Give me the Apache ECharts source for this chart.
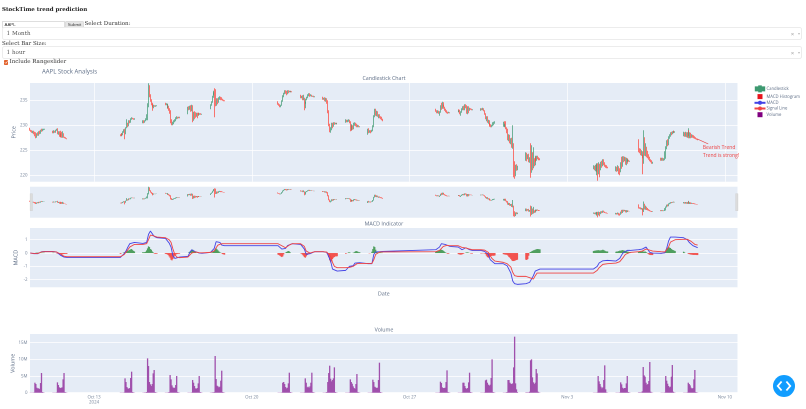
<!DOCTYPE html>
<html><head><meta charset="utf-8">
<script src="https://cdn.jsdelivr.net/npm/echarts@6/dist/echarts.min.js"></script>
<style>
html,body{margin:0;padding:0;background:#fff;width:806px;height:409px;overflow:hidden}
#c{position:absolute;left:0;top:0;width:806px;height:409px}
.t{position:absolute;font-family:"DejaVu Serif",serif;color:#333;white-space:nowrap;line-height:1}
.dd{position:absolute;left:2px;width:798px;height:11px;border:0.6px solid #ececec;border-radius:2px;background:#fff;box-sizing:content-box}
.dd span{position:absolute;left:3.6px;top:2.7px;font:5.6px/1 "DejaVu Serif",serif;color:#555}
.dd i{position:absolute;left:787.8px;top:2.8px;font:normal 6px/1 "Liberation Sans",sans-serif;color:#aaa}
.dd b{position:absolute;left:794.8px;top:4.8px;width:0;height:0;border:1.5px solid transparent;border-top:2px solid #bbb}
#inp{position:absolute;left:2px;top:20.5px;width:63px;height:7px;border:.5px solid #dedede;box-sizing:border-box;font:4.4px/6px "Liberation Sans",sans-serif;padding-left:1.5px;color:#333}
#sub{position:absolute;left:65px;top:20.7px;width:19px;height:7px;background:#e6e6e6;border:.5px solid #ddd;box-sizing:border-box;border-radius:1px;font:4.4px/6px "Liberation Sans",sans-serif;text-align:center;color:#444}
#chk{position:absolute;left:3.5px;top:60px;width:4.4px;height:4.6px;background:#e2622d;border-radius:.7px}
#btn{position:absolute;left:773px;top:375px;width:22px;height:22px;border-radius:50%;background:#119dff}
</style></head><body>
<div id="c"></div>
<div class="t" style="left:2px;top:7px;font-size:5.5px;font-weight:bold;color:#222">StockTime trend prediction</div>
<div id="inp">AAPL</div><div id="sub">Submit</div>
<div class="t" style="left:84.5px;top:21.2px;font-size:5.55px">Select Duration:</div>
<div class="dd" style="top:27.4px"><span>1 Month</span><i>×</i><b></b></div>
<div class="t" style="left:2px;top:40.6px;font-size:5.55px">Select Bar Size:</div>
<div class="dd" style="top:46.4px"><span>1 hour</span><i>×</i><b></b></div>
<div id="chk"><svg width="4.4" height="4.6" viewBox="0 0 10 10" style="display:block"><path d="M2 5l2.3 2.5L8 2.5" stroke="#fff" stroke-width="1.6" fill="none"/></svg></div>
<div class="t" style="left:9.5px;top:59.3px;font-size:5.55px">Include Rangeslider</div>
<div id="btn"><svg width="22" height="22" viewBox="0 0 22 22" style="display:block"><path d="M8.6 6.5L4.8 11l3.8 4.5M13.4 6.5l3.8 4.5-3.8 4.5" stroke="#fff" stroke-width="1.9" fill="none"/></svg></div>
<script>
var tradingDays=['2024-10-10','2024-10-11','2024-10-14','2024-10-15','2024-10-16','2024-10-17','2024-10-18','2024-10-21','2024-10-22','2024-10-23','2024-10-24','2024-10-25','2024-10-28','2024-10-29','2024-10-30','2024-10-31','2024-11-01','2024-11-04','2024-11-05','2024-11-06','2024-11-07','2024-11-08'];
var barHours=[4,5,6,7,8,9,10,11,12,13,14,15,16,17,18,19];
var lineHours=[4,6,8,10,12,14,16,19];
// one row per hour: open, close, low, high
var ohlc=[
[[229.4,229,228.9,229.5],[229,228.9,228.7,229.1],[228.9,228.6,228.5,229],[228.6,228.8,228.4,228.9],[228.8,228.3,228.2,228.9],[228.3,228,227.8,228.7],[228,227.6,227.4,228.6],[227.6,228.2,227.5,228.4],[228.2,228,227.9,228.6],[228,228.6,227.9,228.8],[228.6,228.4,228.2,228.9],[228.4,229,228.3,229.1],[229,228.9,228.7,229.3],[228.9,229.1,228.8,229.3],[229.1,229.2,229,229.3],[229.2,229.2,229.1,229.3]],
[[228.7,228.5,228.4,228.9],[228.5,228.8,228.4,229],[228.8,228.6,228.5,228.9],[228.6,229,228.5,229.1],[229,229.2,228.9,229.3],[229.2,228.4,228.2,229.4],[228.4,228.6,228.1,228.8],[228.6,227.8,227.7,228.8],[227.8,228.2,227.6,228.4],[228.2,227.9,227.6,228.9],[227.9,227.6,227.5,228.7],[227.6,228.3,227.5,228.8],[228.3,227.6,227.5,228.4],[227.6,227.5,227.4,227.7],[227.5,227.4,227.3,227.6],[227.4,227.3,227.2,227.4]],
[[228,227.9,227.8,228.2],[227.9,228.3,227.8,228.4],[228.3,228.1,227.9,228.4],[228.1,228.6,228,228.8],[228.6,229,228.5,229.2],[229,228.3,227.2,229.3],[228.3,229.5,228.2,229.6],[229.5,230.2,229.4,231.2],[230.2,229.9,229.6,230.5],[229.9,230.8,229.8,231],[230.8,230.6,230.4,231],[230.6,231.2,230.5,231.4],[231.2,231.4,231.1,231.6],[231.4,231.3,231.2,231.5],[231.3,231.2,231.1,231.4],[231.2,231.3,231.1,231.4]],
[[230.5,230.9,230.4,231],[230.9,230.6,230.4,231],[230.6,230.9,230.5,231],[230.9,231.2,230.8,231.4],[231.2,232,231,232.2],[232,233.8,231,234.4],[233.8,237.4,233.6,238.4],[237.4,235.8,235.6,238],[235.8,234.9,234.7,236.2],[234.9,234.2,234,235.2],[234.2,234,233.6,234.5],[234,233.6,232.9,234.2],[233.6,233.9,233.4,234.1],[233.9,233.8,233.7,234],[233.8,233.9,233.7,234],[233.9,233.9,233.8,234]],
[[234.3,234.1,234,234.5],[234.1,234.2,234,234.4],[234.2,233.5,233.3,234.3],[233.5,233.7,233.4,234.3],[233.7,233,232.9,233.9],[233,232.6,232.3,233.4],[232.6,230.7,230.4,233],[230.7,230.2,230,231.2],[230.2,230.4,230,230.7],[230.4,230.8,230.2,231],[230.8,231,230.6,231.2],[231,231.4,230.8,231.6],[231.4,231.6,231.2,231.8],[231.6,231.5,231.3,231.7],[231.5,231.6,231.4,231.7],[231.6,231.5,231.4,231.7]],
[[232.3,233.5,232.2,233.7],[233.5,233.2,233,233.8],[233.2,233.8,233.1,233.9],[233.8,232.9,232.7,234],[232.9,233.9,232.8,234.1],[233.9,231.5,230.6,234],[231.5,232.5,230.9,232.7],[232.5,232.2,231.2,232.8],[232.2,231.9,231.5,232.6],[231.9,232.4,231.7,232.5],[232.4,232.1,231.4,232.5],[232.1,232.3,231.9,232.5],[232.3,232.2,232,232.5],[232.2,232.3,232.1,232.4],[232.3,232.2,232.1,232.4],[232.2,232.2,232.1,232.3]],
[[233.4,234,233.2,234.2],[234,234.6,233.9,234.8],[234.6,235.6,234.5,235.9],[235.6,236.2,235.5,236.6],[236.2,236.6,236,236.9],[236.6,234.6,231.6,237.4],[234.6,234,233.8,237.2],[234,235,233.9,235.4],[235,234.6,234.2,235.4],[234.6,235.4,234.5,235.6],[235.4,235.6,235.1,235.8],[235.6,235.4,235,235.7],[235.4,235.1,235,235.6],[235.1,235,234.9,235.3],[235,234.9,234.8,235.1],[234.9,234.8,234.8,235]],
[[234.7,234.2,234.1,234.8],[234.2,234,233.9,234.4],[234,233.7,233.6,234.2],[233.7,234,233.6,234.1],[234,234.9,233.9,235],[234.9,235.8,234.7,236],[235.8,236.3,235.6,236.5],[236.3,236.8,236.2,237],[236.8,236.6,236.3,237],[236.6,236.4,236,236.9],[236.4,236.8,236.2,237],[236.8,236.7,236.4,237],[236.7,236.8,236.6,236.9],[236.8,236.7,236.6,236.9],[236.7,236.7,236.6,236.8],[236.7,236.6,236.6,236.8]],
[[235.8,235.5,235.4,236.1],[235.5,235.7,235.4,235.9],[235.7,235.1,235,236],[235.1,235.4,235,236.1],[235.4,233.5,233,235.5],[233.5,234.5,233.4,234.7],[234.5,235.1,234.3,235.3],[235.1,235.5,235,235.7],[235.5,236,235.4,236.2],[236,236.2,235.8,236.4],[236.2,235.9,235.7,236.4],[235.9,236,235.8,236.2],[236,235.8,235.7,236.1],[235.8,235.8,235.7,235.9],[235.8,235.7,235.6,235.9],[235.7,235.7,235.6,235.8]],
[[235.5,235.2,235.1,235.7],[235.2,235.4,235.1,235.5],[235.4,234.9,234.8,235.6],[234.9,235.3,234.7,235.5],[235.3,234.4,234.3,235.4],[234.4,232.8,232.4,235],[232.8,230,229.8,233],[230,228.9,228.6,230.3],[228.9,229.1,228.5,229.6],[229.1,230.2,229,230.5],[230.2,229.8,229.4,230.5],[229.8,230.4,229.7,230.6],[230.4,230.3,230.1,230.6],[230.3,230.4,230.2,230.5],[230.4,230.3,230.2,230.5],[230.3,230.3,230.2,230.4]],
[[230.6,230.9,230.5,231.2],[230.9,230.7,230.6,231.1],[230.7,230.9,230.6,231.1],[230.9,231,230.7,231.2],[231,230.6,230.4,231.1],[230.6,229.5,228.8,230.8],[229.5,229.2,228.9,230],[229.2,229.8,229,230.2],[229.8,229.3,229.1,230],[229.3,230.1,229.2,230.5],[230.1,230.3,229.9,230.6],[230.3,230.1,229.8,230.5],[230.1,229.8,229.6,230.3],[229.8,229.9,229.6,230.1],[229.9,229.7,229.6,230],[229.7,229.7,229.6,229.8]],
[[228.6,229.1,228.1,229.3],[229.1,228.6,228.4,229.4],[228.6,228.8,228.5,229],[228.8,228.5,228.4,229],[228.8,228.9,228.6,229.1],[228.9,229.7,228.8,230],[229.7,231.8,229.6,232],[231.8,233,231.6,233.3],[233,232.1,231.9,233.3],[232.1,232.6,231.8,232.9],[232.6,231.9,231.7,232.8],[231.9,232,231.4,232.2],[232,231.6,231.4,232.2],[231.6,231.5,231.2,231.8],[231.5,231.2,231,231.7],[231.2,231,230.8,231.3]],
[[233.1,232.9,232.7,233.3],[232.9,232.5,232.4,233],[232.5,232.8,232.4,233],[232.8,232.4,232.3,232.9],[232.4,232.6,231.9,232.8],[232.6,233.8,232.5,234],[233.8,233.4,233.1,234.5],[233.4,234.5,233.3,234.7],[234.5,233.9,233.7,234.6],[233.9,233.5,233.3,234.1],[233.5,233.1,232.9,233.7],[233.1,232.8,232.6,233.3],[232.8,232.6,232.4,233],[232.6,232.5,232.3,232.7],[232.5,232.6,232.4,232.7],[232.6,232.5,232.4,232.6]],
[[233,232.7,232.6,233.2],[232.7,232.9,232.6,233],[232.9,232.3,232.2,233.1],[232.3,232.6,231.9,232.8],[232.6,233.2,232.5,233.4],[233.2,233.6,233,233.8],[233.6,233.2,233,233.9],[233.2,234,233,234.2],[234,233.8,233.4,234.2],[233.8,232.5,232.3,234],[232.5,233.6,232.2,233.8],[233.6,233.1,232.4,233.8],[233.1,233.3,232.9,233.5],[233.3,233.2,233.1,233.4],[233.2,233.1,233,233.3],[233.1,233.1,233,233.2]],
[[233,233.2,232.9,233.4],[233.2,233.1,233,233.4],[233.1,233.3,233,233.5],[233.3,232.9,232.8,233.4],[232.9,232.2,232.1,233],[232.2,231.4,231.2,232.4],[231.4,231.6,230.8,231.8],[231.6,230.7,230.5,231.8],[230.7,230.9,230.3,231.1],[230.9,230.2,230,231],[230.2,230,229.7,230.4],[230,229.7,229.6,230.2],[229.7,229.9,229.6,230.1],[229.9,230.1,229.8,230.6],[230.1,230.4,230,230.7],[230.4,230.6,230.3,230.8]],
[[230,230.3,229.7,230.7],[230.3,229.9,229.7,230.8],[229.9,230,229.6,230.3],[230,229.4,229.2,230.8],[229.4,229.1,228.4,229.6],[229.1,227.6,227,229.3],[227.6,227.9,226.8,228.2],[227.9,226.8,226.4,228.1],[226.8,227.2,226.2,227.4],[227.2,225.8,225.5,227.5],[225.8,226.2,225.3,230],[226.2,222.4,219.6,226.4],[222.4,220.2,219.3,222.8],[220.2,221.8,219.8,222.1],[221.8,221.2,220.9,222.2],[221.2,221.6,221,221.9]],
[[223.2,224.3,222.9,224.6],[224.3,223.4,222.8,224.5],[223.4,224,223.2,224.2],[224,222.9,222.6,224.3],[222.9,223.4,222.5,223.6],[223.4,220.9,219.5,226.4],[220.9,224.2,220.5,226],[224.2,221.6,221,224.6],[221.6,223,221.4,225.6],[223,222.2,221.8,223.4],[222.2,223.4,222,223.9],[223.4,223.1,222.7,223.7],[223.1,223.7,222.9,223.9],[223.7,223.5,223.2,223.9],[223.5,223.3,223,223.6],[223.3,223.1,223,223.4]],
[[221.4,221.7,221.2,222],[221.7,221.3,221,221.9],[221.3,221.9,220.8,222.1],[221.9,221.1,220.7,222.2],[221.1,221.6,220,222.4],[221.6,220.4,218.9,222.4],[220.4,222,220.2,222.6],[222,221.1,219.6,222.3],[221.1,222.2,221,222.7],[222.2,222,221.5,222.9],[222,223,221.8,223.2],[223,222.4,222,223.2],[222.4,221.9,221.7,222.6],[221.9,221.8,221.5,222.1],[221.8,221.6,221.4,222],[221.6,221.5,221.4,221.7]],
[[221,221.4,220.8,221.8],[221.4,221,220.7,221.7],[221,221.6,220.8,222],[221.6,221.1,220.2,221.8],[221.1,220.9,220,221.4],[220.9,222.2,220.6,222.6],[222.2,221.9,221.3,223.7],[221.9,223.3,221.7,223.8],[223.3,223.1,222.6,223.8],[223.1,223.4,222.8,223.7],[223.4,222.9,222.1,223.6],[222.9,223.2,222,223.5],[223.2,222.9,222.3,223.4],[222.9,223,222.7,223.2],[223,222.8,222.7,223.1],[222.8,222.8,222.7,222.9]],
[[226.8,225.2,224.6,227.2],[225.2,224.9,224.4,225.4],[224.9,224.3,224,225.3],[224.3,224.6,223.9,225],[224.6,223.7,223.4,224.8],[223.7,222.7,220.2,224.1],[222.7,225.8,222.3,229],[225.8,224.2,223.9,227.6],[224.2,225.4,223.8,226.4],[225.4,224.4,223.6,225.7],[224.4,223.9,223.4,224.9],[223.9,223.4,223.1,224.2],[223.4,223,222.8,223.7],[223,222.8,222.6,223.2],[222.8,222.5,222.3,223],[222.5,222.6,222.3,222.7]],
[[223.3,223.1,222.9,223.5],[223.1,223.4,222.9,223.5],[223.4,223,222.9,223.5],[223,223.2,222.9,223.4],[223.2,223.5,223,224.8],[223.5,225.4,223.3,225.8],[225.4,226.6,225.2,227],[226.6,226.2,225.8,227.2],[226.2,227.6,226,227.8],[227.6,227.9,227.3,228.2],[227.9,228.4,227.7,228.6],[228.4,228.3,228,228.7],[228.3,228.6,228.2,228.8],[228.6,228.7,228.4,228.9],[228.7,228.6,228.5,228.9],[228.6,228.7,228.5,228.8]],
[[228,228.5,227.8,228.7],[228.5,228,227.7,228.6],[228,228.4,227.7,228.7],[228.4,227.9,227.6,228.6],[227.9,228.3,227.5,228.6],[228.3,228.6,227.8,229.4],[228.6,227.8,227.4,229],[227.8,228.3,227.4,228.6],[228.3,227.7,227.4,228.5],[227.7,228,227.5,228.2],[228,227.8,227.5,228.1],[227.8,227.6,227.4,228],[227.6,227.5,227.3,227.8],[227.5,227.3,227.2,227.6],[227.3,227.2,227.1,227.4],[227.2,227.1,227,227.3]]
];
var macdVals=[
[0,-0.02,-0.05,-0.1,-0.05,0.05,0.1,0.12],[0.12,0.1,0.08,0,-0.15,-0.25,-0.3,-0.33],[-0.33,-0.2,-0.05,0.15,0.45,0.7,0.78,0.8],[0.72,0.7,0.8,1.4,1.65,1.5,1.25,1.15],[1.1,1.05,0.75,0.45,-0.2,-0.4,-0.35,-0.3],[-0.25,0.05,0.25,0.2,0.1,0.05,0,-0.02],[0.05,0.1,0.35,0.85,0.85,0.8,0.6,0.55],
[0.55,0.5,0.3,0.15,0.35,0.55,0.65,0.7],[0.65,0.6,0.3,-0.1,-0.15,-0.05,0.05,0.1],[0.1,0.1,0.05,-0.1,-0.6,-1.2,-1.32,-1.35],[-1.3,-1.2,-1,-1.05,-0.95,-0.75,-0.7,-0.72],[-0.8,-0.85,-0.8,-0.1,0.08,0.1,0.1,0.12],
[0.25,0.3,0.45,0.7,0.8,0.65,0.55,0.5],[0.45,0.4,0.25,0.3,0.4,0.35,0.25,0.2],[0.2,0.18,0.12,0.15,-0.1,-0.5,-0.65,-0.8],[-0.8,-0.85,-0.95,-1.05,-1.5,-2.1,-2.3,-2.35],[-2.3,-2.28,-2.2,-2.05,-1.7,-1.35,-1.2,-1.2],
[-1.2,-1.15,-1,-0.75,-0.62,-0.58,-0.58,-0.55],[-0.6,-0.55,-0.4,-0.15,0.05,0.15,0.2,0.2],[0.25,0.28,0.3,0.35,0.45,0.3,0.05,0],[-0.02,-0.02,0.02,0.35,0.9,1.2,1.22,1.2],[1.15,1.12,1,0.8,0.7,0.55,0.45,0.4]
];
var signalVals=[
[0,-0.01,-0.03,-0.05,-0.03,0.04,0.08,0.1],[0.1,0.09,0.08,0.03,-0.06,-0.16,-0.24,-0.27],[-0.27,-0.22,-0.12,0,0.25,0.45,0.6,0.65],[0.65,0.66,0.7,1,1.35,1.4,1.28,1.2],[1.15,1.12,1,0.8,0.3,-0.1,-0.3,-0.35],[-0.3,-0.15,0,0.08,0.08,0.05,0.03,0.02],[0.05,0.06,0.15,0.4,0.6,0.68,0.7,0.7],
[0.7,0.68,0.55,0.4,0.4,0.5,0.6,0.7],[0.7,0.68,0.5,0.15,0.02,0,0.05,0.1],[0.1,0.1,0.07,0,-0.25,-0.7,-1,-1.1],[-1.1,-1.12,-1.08,-1.05,-1,-0.88,-0.8,-0.78],[-0.78,-0.8,-0.78,-0.5,-0.1,0.05,0.07,0.08],
[0.1,0.12,0.2,0.35,0.5,0.6,0.58,0.55],[0.55,0.5,0.42,0.38,0.38,0.36,0.3,0.25],[0.25,0.24,0.22,0.2,0.05,-0.2,-0.42,-0.6],[-0.7,-0.75,-0.8,-0.88,-1.05,-1.45,-1.7,-1.75],[-1.75,-1.78,-1.85,-2,-1.95,-1.7,-1.5,-1.5],
[-1.5,-1.45,-1.3,-1.1,-0.95,-0.85,-0.82,-0.8],[-0.75,-0.72,-0.65,-0.5,-0.3,-0.1,0.02,0.05],[0.1,0.12,0.15,0.22,0.3,0.3,0.22,0.15],[0.1,0.08,0.08,0.12,0.45,0.82,0.95,1],[1.03,1.04,1.03,0.98,0.88,0.75,0.65,0.6]
];
var histVals=[
[0,0,0,-0.02,-0.02,0,0.02,0.03,0.03,0.03,0.03,0.02,0.02,0.02,0.02,0.02],[0.02,0.02,0,0,-0.02,-0.04,-0.06,-0.09,-0.1,-0.1,-0.09,-0.08,-0.07,-0.06,-0.06,-0.06],[-0.06,-0.03,0,0.02,0.05,0.08,0.1,0.13,0.17,0.2,0.24,0.28,0.3,0.22,0.16,0.12],[0.07,0.05,0.07,0.1,0.2,0.35,0.5,0.45,0.3,0.25,0.12,0.05,-0.03,-0.06,-0.05,-0.05],
[-0.06,-0.07,-0.1,-0.15,-0.25,-0.35,-0.5,-0.55,-0.45,-0.3,-0.2,-0.12,-0.08,-0.06,-0.05,-0.05],[0,0.05,0.1,0.15,0.22,0.25,0.18,0.1,0.05,0.02,0,0,0,0,0,0],[0,0.02,0.05,0.1,0.2,0.3,0.35,0.28,0.2,0.12,0.06,0.02,-0.03,-0.08,-0.1,-0.12],
[-0.12,-0.15,-0.2,-0.25,-0.3,-0.25,-0.1,0,0.03,0.08,0.12,0.15,0.12,0.05,0,0],[-0.02,-0.05,-0.12,-0.2,-0.3,-0.35,-0.25,-0.15,-0.05,-0.03,0,0,0,0,0,0],[0,0,0,0,-0.03,-0.1,-0.3,-0.55,-0.7,-0.6,-0.45,-0.35,-0.3,-0.25,-0.25,-0.24],[-0.05,-0.03,0,0.05,0.05,0.02,0,0,0.02,0.05,0.1,0.15,0.14,0.1,0.06,0.06],[0,-0.02,-0.02,0,0.1,0.3,0.5,0.45,0.25,0.1,0.05,0.03,0.03,0.03,0.02,0.02],
[0.12,0.15,0.18,0.2,0.22,0.25,0.25,0.22,0.18,0.12,0.06,0.02,-0.03,-0.06,-0.03,0],[-0.08,-0.1,-0.12,-0.12,-0.1,-0.07,-0.03,0,0.03,0.05,0.05,0.03,0,-0.03,-0.04,-0.04],[-0.03,-0.03,-0.02,-0.02,-0.03,-0.08,-0.2,-0.3,-0.35,-0.3,-0.25,-0.22,-0.2,-0.2,-0.2,-0.18],[-0.08,-0.1,-0.12,-0.12,-0.14,-0.2,-0.3,-0.35,-0.45,-0.55,-0.6,-0.6,-0.58,-0.55,-0.52,-0.5],
[-0.5,-0.52,-0.45,-0.2,0.03,0.08,0.12,0.16,0.2,0.22,0.25,0.28,0.3,0.3,0.28,0.28],[0.15,0.17,0.18,0.2,0.2,0.22,0.2,0.2,0.2,0.22,0.25,0.22,0.18,0.14,0.12,0.12],[0.1,0.12,0.12,0.15,0.18,0.18,0.2,0.22,0.2,0.18,0.16,0.14,0.12,0.1,0.08,0.08],[0.08,0.08,0.1,0.1,0.12,0.12,0.1,0.12,0.08,0.02,-0.05,-0.1,-0.14,-0.15,-0.15,-0.15],[-0.05,0,0,0,0.05,0.15,0.3,0.38,0.42,0.42,0.38,0.3,0.25,0.22,0.18,0.16],[0.1,0.05,0,0,0,-0.06,-0.08,-0.1,-0.12,-0.12,-0.14,-0.14,-0.14,-0.14,-0.15,-0.15]
];
var volumeVals=[
[0.05,0.05,0.05,0.05,0.1,3,2.6,1.5,1.3,1.3,1.1,2.9,5.9,0.2,0.1,0.05],[0.05,0.05,0.05,0.05,0.1,3.1,2.3,1.6,1.4,1.5,1.6,4,5.9,0.2,0.1,0.05],[0.05,0.05,0.05,0.05,0.1,4.3,3.2,1.7,1.3,1.2,1.4,4.4,6.3,0.2,0.1,0.05],[0.05,0.05,0.1,0.1,0.2,10.3,8,3.2,2.5,2,2.6,5.8,6.8,0.2,0.1,0.05],[0.05,0.05,0.05,0.1,0.2,5.3,4,2.2,1.6,1.4,1.5,2.3,5,0.2,0.1,0.05],[0.05,0.05,0.05,0.05,0.1,3.8,3,2,1.3,1.2,1.4,2.8,5,0.2,0.1,0.05],[0.05,0.05,0.1,0.1,0.2,11,4.1,2.1,1.9,1.6,1.8,3.6,6.6,0.2,0.1,0.05],
[0.05,0.05,0.05,0.05,0.1,3,3.2,2.6,1.7,1.3,1.5,2.8,6,0.2,0.1,0.05],[0.05,0.05,0.05,0.05,0.1,4.3,3,1.6,1.8,1.5,1.9,3,6,0.2,0.1,0.05],[0.05,0.05,0.05,0.1,0.2,3.2,5.9,8.1,4.2,3.4,3.8,4.3,7.6,0.2,0.1,0.05],[0.05,0.05,0.05,0.05,0.1,4,3.2,2.7,1.9,1.4,1.2,2.6,5.6,0.2,0.1,0.05],[0.05,0.05,0.05,0.05,0.1,3.9,3.2,1.8,1.6,1.4,1.5,3.8,9,0.2,0.1,0.05],
[0.05,0.05,0.05,0.05,0.1,3.3,2.9,1.6,1.4,1.4,1.5,3.2,6.7,0.2,0.1,0.05],[0.05,0.05,0.05,0.05,0.1,3,3,2,1.4,1.1,1.4,3.1,6,0.2,0.1,0.05],[0.05,0.05,0.05,0.05,0.1,3.7,3.9,3,2.4,2.1,2.4,4.4,10,0.2,0.1,0.05],[0.05,0.05,0.05,0.1,0.2,3.8,3.8,3,2.7,2.6,2.8,7.6,16.8,2.8,1,0.2],
[0.1,0.1,0.1,0.1,0.3,9.7,10,4.6,3.1,2.6,3,7.1,5.8,0.3,0.1,0.05],[0.05,0.05,0.05,0.05,0.1,5,3.4,2.6,1.8,1.3,1.6,3.8,8.2,1,0.1,0.05],[0.05,0.05,0.05,0.05,0.1,3.1,2.5,1.5,1.2,1.4,1.4,2.8,5,0.2,0.1,0.05],[0.1,0.1,0.1,0.1,0.4,7.7,5.2,4.8,3,2.4,2.6,3.5,9.2,0.3,0.1,0.05],[0.05,0.05,0.05,0.05,0.1,5,3.6,2.7,2,1.6,1.8,4.8,8.3,0.3,0.1,0.05],[0.05,0.05,0.05,0.05,0.1,3,2.6,2.2,1.5,1.2,1.4,4,6.8,0.2,0.1,0.05]
];
var priceTicks=[220,225,230,235], macdTicks=[-2,-1,0,1], volumeTicks=[0,5,10,15];
var dateTicks=['2024-10-13','2024-10-20','2024-10-27','2024-11-03','2024-11-10'];
var dateTickLabels=['Oct 13\n2024','Oct 20','Oct 27','Nov 3','Nov 10'];
var arrowFrom=['2024-11-08T18:30',227.26], arrowTo=['2024-11-09T06:15',226.26];
var noteOne=['2024-11-09T17:50',225.5,'Bearish Trend'], noteTwo=['2024-11-09T19:50',223.9,'Trend is strong!'];

function ts(s){return Date.parse(s+(s.length>10?':00Z':'T00:00:00Z'));}
var xMin=ts('2024-10-10T03:45'), xMax=ts('2024-11-10T13:26');
var candles=[],macd=[],signal=[],hist=[],vol=[];
tradingDays.forEach(function(d,i){
  barHours.forEach(function(h,j){
    var t=ts(d)+h*3600000,r=ohlc[i][j];
    candles.push([t,r[0],r[1],r[2],r[3]]);
    hist.push([t,histVals[i][j]]);
    vol.push([t,volumeVals[i][j]]);
  });
  lineHours.forEach(function(h,j){
    var t=ts(d)+h*3600000;
    macd.push([t,macdVals[i][j]]);
    signal.push([t,signalVals[i][j]]);
  });
});
var tickTimes=dateTicks.map(ts);
var gridL=30,gridR=68.5;
var plotBg='#E5ECF6',ink='#5b6b84',tick='#76849a';
var font='"Open Sans",sans-serif';
function xAxis(idx,extra){return Object.assign({type:'value',scale:true,gridIndex:idx,min:xMin,max:xMax,
  axisLine:{show:false},axisTick:{show:false},axisLabel:{show:false},splitLine:{show:false},axisPointer:{show:false}},extra||{});}
function yAxis(idx,min,max,ticks,name,gap,fmt,hide){return {type:'value',gridIndex:idx,min:min,max:max,scale:true,
  name:name,nameLocation:'middle',nameGap:gap,nameMoveOverlap:false,nameTextStyle:{fontSize:5.4,color:ink,fontFamily:font},
  axisLine:{show:false},axisTick:{show:false,customValues:ticks},
  axisLabel:{show:!hide,customValues:ticks,fontSize:4.4,color:tick,fontFamily:font,margin:2.5,formatter:fmt},
  splitLine:{show:!hide,lineStyle:{color:'#fff',width:.7}}};}
function titleAt(text,left,top,size,align){return {text:text,left:left,top:top,textAlign:align,padding:0,
  textStyle:{fontSize:size,fontWeight:'normal',color:ink,fontFamily:font}};}
function gridAt(top,height){return {left:gridL,right:gridR,top:top,height:height,backgroundColor:plotBg,show:true,borderWidth:0,outerBoundsMode:'none',containLabel:false};}
var upC='#3D9970',downC='#FF4136';
var chart=echarts.init(document.getElementById('c'),null,{renderer:'canvas',devicePixelRatio:2});
chart.setOption({
  animation:false,backgroundColor:'transparent',
  title:[titleAt('AAPL Stock Analysis',42,69,6,'left'),titleAt('Candlestick Chart',384,76,5.3,'center'),titleAt('MACD Indicator',384,221.5,5.3,'center'),titleAt('Volume',384,327.5,5.3,'center')],
  grid:[gridAt(83,98.7),gridAt(186.7,31),gridAt(228,59.3),gridAt(334,58.7)],
  xAxis:[
    xAxis(0,{axisTick:{show:false,customValues:tickTimes},axisLabel:{show:false,customValues:tickTimes},splitLine:{show:true,lineStyle:{color:'#fff',width:.7}}}),
    xAxis(1),
    xAxis(2,{name:'Date',nameLocation:'middle',nameGap:4,nameTextStyle:{fontSize:5.4,color:ink,fontFamily:font}}),
    xAxis(3,{axisTick:{show:false,customValues:tickTimes},axisLabel:{show:true,customValues:tickTimes,fontSize:4.4,lineHeight:5,color:tick,fontFamily:font,margin:2,
      formatter:function(v){return dateTickLabels[tickTimes.indexOf(v)]||'';}}})
  ],
  yAxis:[
    yAxis(0,218.7,238.46,priceTicks,'Price',13.5),
    yAxis(1,218.7,238.46,[],'',0,null,true),
    yAxis(2,-2.57,1.88,macdTicks,'MACD',11.5),
    yAxis(3,0,17.6,volumeTicks,'Volume',14.5,function(v){return v?v+'M':'0';})
  ],
  dataZoom:[{type:'slider',xAxisIndex:[0,2,3],start:0,end:100,filterMode:'none',left:gridL,right:gridR,top:186.7,height:31,
    backgroundColor:'transparent',borderColor:'transparent',fillerColor:'transparent',showDataShadow:false,showDetail:false,brushSelect:false,
    moveHandleSize:0,handleIcon:'path://M0 0h2.4v17h-2.4z',handleSize:'55%',handleStyle:{color:'#dcdcdc',borderColor:'#c8c8c8',borderWidth:.3},z:10}],
  legend:{orient:'vertical',left:753.5,top:85.4,itemWidth:11,itemHeight:5,itemGap:1.7,padding:0,textStyle:{fontSize:4.2,color:ink,fontFamily:font,padding:[0,0,0,-4]},selectedMode:false,
    data:[{name:'Candlestick',icon:'path://M0 1h1.6v3h-1.6zM3.4 0h1.6v5h-1.6zM6.8 1h1.6v3h-1.6z'},{name:'MACD Histogram',icon:'path://M0 0h4v4h-4z',itemStyle:{color:'#e8141c'}},{name:'MACD'},{name:'Signal Line'},{name:'Volume',icon:'path://M0 0h4v4h-4z',itemStyle:{color:'#800080'}}]},
  series:[
    {name:'Candlestick',type:'candlestick',xAxisIndex:0,yAxisIndex:0,encode:{x:0,y:[1,2,3,4]},data:candles,barWidth:1.2,itemStyle:{color:upC,color0:downC,borderColor:upC,borderColor0:downC,borderWidth:.7},silent:true,
     markLine:{silent:true,symbol:'none',animation:false,label:{show:false},lineStyle:{color:'#e8484a',width:.6,type:'solid'},
       data:[[{coord:[ts(arrowFrom[0]),arrowFrom[1]]},{coord:[ts(arrowTo[0]),arrowTo[1]]}]]},
     markPoint:{silent:true,symbol:'circle',symbolSize:0,animation:false,
       label:{show:true,position:'inside',fontSize:5,color:'#ee3b3b',fontFamily:font,formatter:function(p){return p.name;}},
       data:[noteOne,noteTwo].map(function(n){return {name:n[2],coord:[ts(n[0]),n[1]]};})}},
    {name:'CandlestickMini',type:'candlestick',xAxisIndex:1,yAxisIndex:1,encode:{x:0,y:[1,2,3,4]},data:candles,barWidth:1.2,itemStyle:{color:upC,color0:downC,borderColor:upC,borderColor0:downC,borderWidth:.7},silent:true},
    {name:'MACD Histogram',type:'bar',xAxisIndex:2,yAxisIndex:2,data:hist,barWidth:1.3,silent:true,itemStyle:{color:function(p){return p.value[1]<0?'#f2534f':'#4f9f5f';}}},
    {name:'MACD',type:'line',xAxisIndex:2,yAxisIndex:2,data:macd,symbol:'none',silent:true,itemStyle:{color:'#4343e6'},lineStyle:{color:'#4343e6',width:.9}},
    {name:'Signal Line',type:'line',xAxisIndex:2,yAxisIndex:2,data:signal,symbol:'none',silent:true,itemStyle:{color:'#ef4444'},lineStyle:{color:'#ef4444',width:.9}},
    {name:'Volume',type:'bar',xAxisIndex:3,yAxisIndex:3,data:vol,barWidth:1.3,silent:true,itemStyle:{color:'#a050ac'}}
  ]
});
</script>
</body></html>
